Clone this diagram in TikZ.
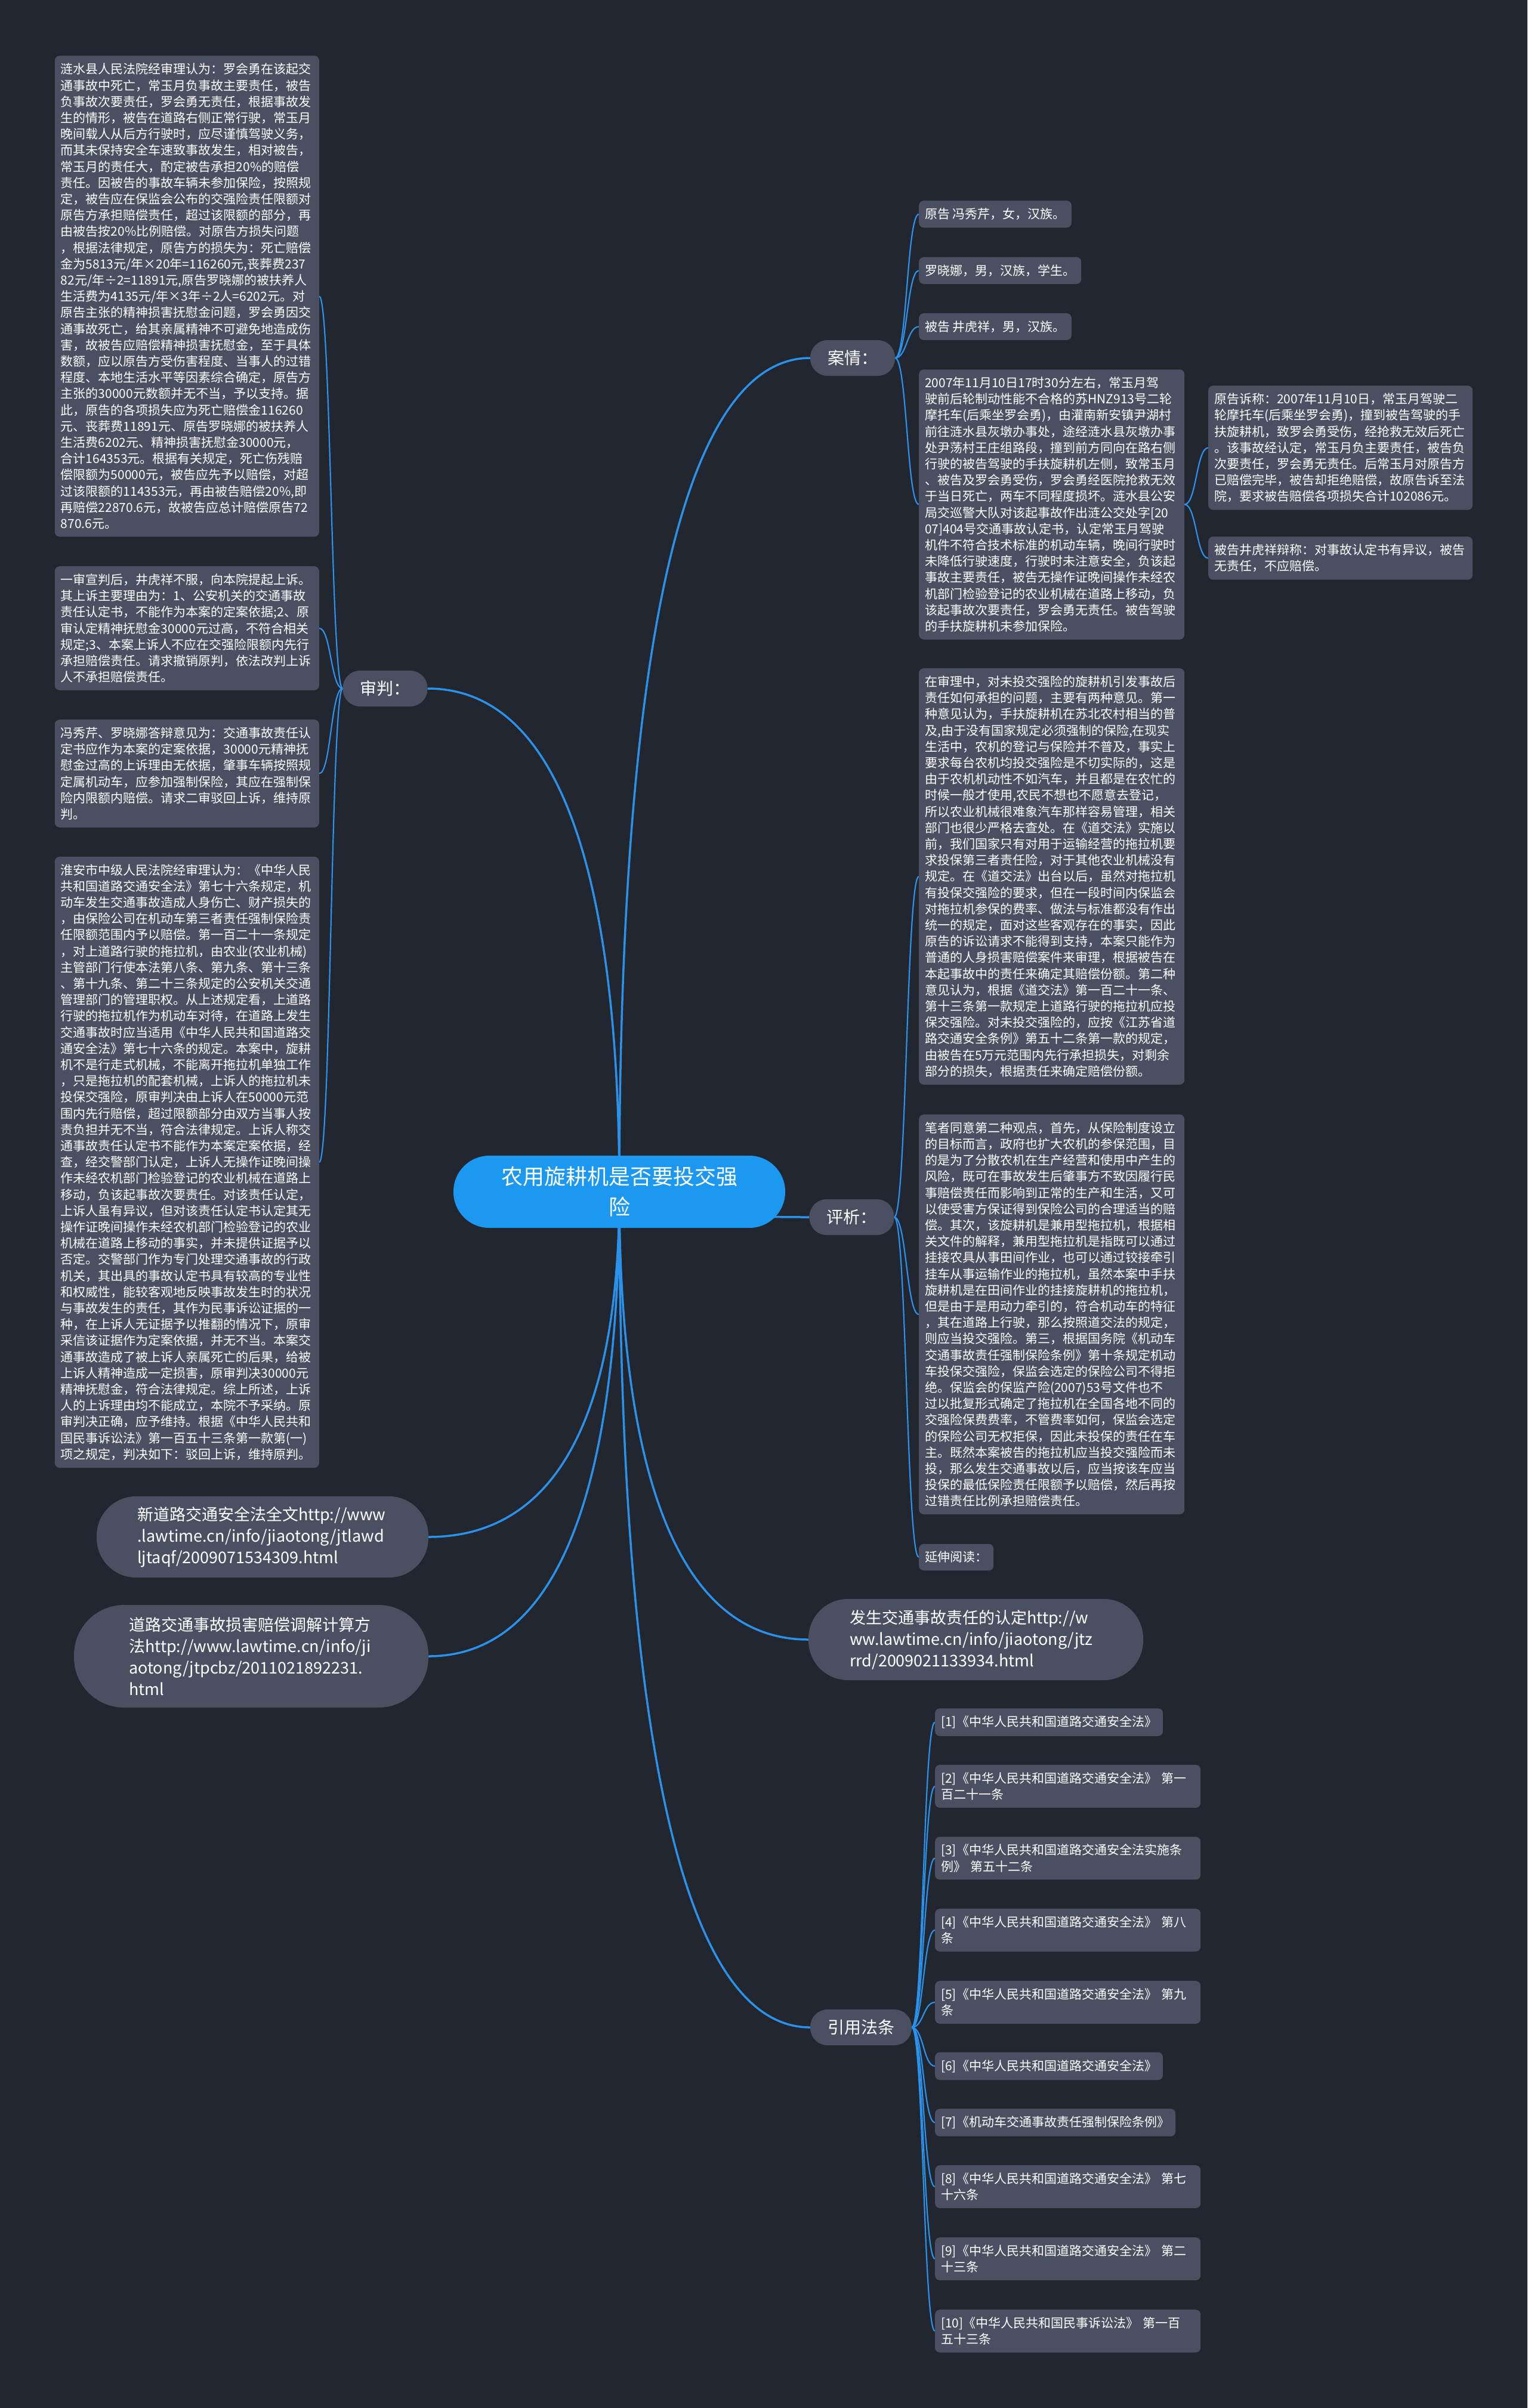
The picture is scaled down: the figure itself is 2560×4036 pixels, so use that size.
\documentclass[tikz,border=0pt]{standalone}
\usepackage{fontspec}
\setmainfont{Noto Sans CJK SC}
\usetikzlibrary{calc}
\definecolor{bgc}{HTML}{22262F}
\definecolor{boxc}{HTML}{4A5061}
\definecolor{linec}{HTML}{2A92EA}
\definecolor{rootc}{HTML}{1C98F0}
\pgfdeclarelayer{bg}
\pgfdeclarelayer{edges}
\pgfsetlayers{bg,edges,main}
\tikzset{
  leaf/.style={fill=boxc, rounded corners=8pt, text=white, font=\fontsize{21}{27.2}\selectfont, inner xsep=10pt, inner ysep=12.5pt, align=left},
  wide/.style={leaf, text width=423pt},
  branch/.style={fill=boxc, rounded corners=29pt, text=white, font=\fontsize{28}{34}\selectfont, minimum height=60pt, inner xsep=29pt, inner ysep=0pt},
  pill/.style={fill=boxc, text=white, font=\fontsize{27}{36}\selectfont, align=left, inner sep=0pt},
  rootnode/.style={fill=rootc, rounded corners=60pt, text=white, font=\fontsize{36}{51}\selectfont, align=center, minimum width=556pt, minimum height=121pt, inner sep=0pt},
  conn/.style={draw=linec, line width=3.5pt},
  conntwo/.style={draw=linec, line width=2.2pt},
}
\newcommand\mmA[2]{\draw[conn] (#1) .. controls ($(#1)!0.5!(#1 |- #2)$) and ($(#1 |- #2)!0.2!(#2)$) .. (#2);}
\newcommand\mmB[2]{\draw[conntwo] (#1) .. controls ($(#1)!0.5!(#1 -| #2)$) and ($(#2)!0.5!(#1 |- #2)$) .. (#2);}
\begin{document}
\begin{tikzpicture}[x=1pt,y=-1pt]
\begin{pgfonlayer}{bg}
\fill[bgc] (0,0) rectangle (2560,4036);
\end{pgfonlayer}
\useasboundingbox (0,0) rectangle (2560,4036);

% root
\node[rootnode] (c) at (1038,1997.5) {农用旋耕机是否要投交强\\险};

% branches
\node[branch] (an) at (1429,600) {案情：};
\node[branch] (sp) at (645.5,1154) {审判：};
\node[branch] (px) at (1427.5,2040) {评析：};
\node[branch] (yf) at (1443,3398) {引用法条};

% case
\node[leaf, anchor=west] (a1) at (1540,359) {原告 冯秀芹，女，汉族。};
\node[leaf, anchor=west] (a2) at (1540,453.5) {罗晓娜，男，汉族，学生。};
\node[leaf, anchor=west] (a3) at (1540,547.5) {被告 井虎祥，男，汉族。};
\node[wide, anchor=west, text width=425pt] (a4) at (1540,845.5) {2007年11月10日17时30分左右，常玉月驾\\
驶前后轮制动性能不合格的苏HNZ913号二轮\\
摩托车(后乘坐罗会勇)，由灌南新安镇尹湖村\\
前往涟水县灰墩办事处，途经涟水县灰墩办事\\
处尹荡村王庄组路段，撞到前方同向在路右侧\\
行驶的被告驾驶的手扶旋耕机左侧，致常玉月\\
、被告及罗会勇受伤，罗会勇经医院抢救无效\\
于当日死亡，两车不同程度损坏。涟水县公安\\
局交巡警大队对该起事故作出涟公交处字[20\\
07]404号交通事故认定书，认定常玉月驾驶\\
机件不符合技术标准的机动车辆，晚间行驶时\\
未降低行驶速度，行驶时未注意安全，负该起\\
事故主要责任，被告无操作证晚间操作未经农\\
机部门检验登记的农业机械在道路上移动，负\\
该起事故次要责任，罗会勇无责任。被告驾驶\\
的手扶旋耕机未参加保险。};
\node[wide, anchor=west] (a5) at (2025,750.5) {原告诉称：2007年11月10日，常玉月驾驶二\\
轮摩托车(后乘坐罗会勇)，撞到被告驾驶的手\\
扶旋耕机，致罗会勇受伤，经抢救无效后死亡\\
。该事故经认定，常玉月负主要责任，被告负\\
次要责任，罗会勇无责任。后常玉月对原告方\\
已赔偿完毕，被告却拒绝赔偿，故原告诉至法\\
院，要求被告赔偿各项损失合计102086元。};
\node[wide, anchor=west] (a6) at (2025,935.5) {被告井虎祥辩称：对事故认定书有异议，被告\\
无责任，不应赔偿。};

% trial
\node[wide, anchor=east] (s1) at (535,496.5) {涟水县人民法院经审理认为：罗会勇在该起交\\
通事故中死亡，常玉月负事故主要责任，被告\\
负事故次要责任，罗会勇无责任，根据事故发\\
生的情形，被告在道路右侧正常行驶，常玉月\\
晚间载人从后方行驶时，应尽谨慎驾驶义务，\\
而其未保持安全车速致事故发生，相对被告，\\
常玉月的责任大，酌定被告承担20\%的赔偿\\
责任。因被告的事故车辆未参加保险，按照规\\
定，被告应在保监会公布的交强险责任限额对\\
原告方承担赔偿责任，超过该限额的部分，再\\
由被告按20\%比例赔偿。对原告方损失问题\\
，根据法律规定，原告方的损失为：死亡赔偿\\
金为5813元/年×20年=116260元,丧葬费237\\
82元/年÷2=11891元,原告罗晓娜的被扶养人\\
生活费为4135元/年×3年÷2人=6202元。对\\
原告主张的精神损害抚慰金问题，罗会勇因交\\
通事故死亡，给其亲属精神不可避免地造成伤\\
害，故被告应赔偿精神损害抚慰金，至于具体\\
数额，应以原告方受伤害程度、当事人的过错\\
程度、本地生活水平等因素综合确定，原告方\\
主张的30000元数额并无不当，予以支持。据\\
此，原告的各项损失应为死亡赔偿金116260\\
元、丧葬费11891元、原告罗晓娜的被扶养人\\
生活费6202元、精神损害抚慰金30000元，\\
合计164353元。根据有关规定，死亡伤残赔\\
偿限额为50000元，被告应先予以赔偿，对超\\
过该限额的114353元，再由被告赔偿20\%,即\\
再赔偿22870.6元，故被告应总计赔偿原告72\\
870.6元。};
\node[wide, anchor=east] (s2) at (535,1053) {一审宣判后，井虎祥不服，向本院提起上诉。\\
其上诉主要理由为：1、公安机关的交通事故\\
责任认定书，不能作为本案的定案依据;2、原\\
审认定精神抚慰金30000元过高，不符合相关\\
规定;3、本案上诉人不应在交强险限额内先行\\
承担赔偿责任。请求撤销原判，依法改判上诉\\
人不承担赔偿责任。};
\node[wide, anchor=east] (s3) at (535,1296.5) {冯秀芹、罗晓娜答辩意见为：交通事故责任认\\
定书应作为本案的定案依据，30000元精神抚\\
慰金过高的上诉理由无依据，肇事车辆按照规\\
定属机动车，应参加强制保险，其应在强制保\\
险内限额内赔偿。请求二审驳回上诉，维持原\\
判。};
\node[wide, anchor=east] (s4) at (535,1948) {淮安市中级人民法院经审理认为：《中华人民\\
共和国道路交通安全法》第七十六条规定，机\\
动车发生交通事故造成人身伤亡、财产损失的\\
，由保险公司在机动车第三者责任强制保险责\\
任限额范围内予以赔偿。第一百二十一条规定\\
，对上道路行驶的拖拉机，由农业(农业机械)\\
主管部门行使本法第八条、第九条、第十三条\\
、第十九条、第二十三条规定的公安机关交通\\
管理部门的管理职权。从上述规定看，上道路\\
行驶的拖拉机作为机动车对待，在道路上发生\\
交通事故时应当适用《中华人民共和国道路交\\
通安全法》第七十六条的规定。本案中，旋耕\\
机不是行走式机械，不能离开拖拉机单独工作\\
，只是拖拉机的配套机械，上诉人的拖拉机未\\
投保交强险，原审判决由上诉人在50000元范\\
围内先行赔偿，超过限额部分由双方当事人按\\
责负担并无不当，符合法律规定。上诉人称交\\
通事故责任认定书不能作为本案定案依据，经\\
查，经交警部门认定，上诉人无操作证晚间操\\
作未经农机部门检验登记的农业机械在道路上\\
移动，负该起事故次要责任。对该责任认定，\\
上诉人虽有异议，但对该责任认定书认定其无\\
操作证晚间操作未经农机部门检验登记的农业\\
机械在道路上移动的事实，并未提供证据予以\\
否定。交警部门作为专门处理交通事故的行政\\
机关，其出具的事故认定书具有较高的专业性\\
和权威性，能较客观地反映事故发生时的状况\\
与事故发生的责任，其作为民事诉讼证据的一\\
种，在上诉人无证据予以推翻的情况下，原审\\
采信该证据作为定案依据，并无不当。本案交\\
通事故造成了被上诉人亲属死亡的后果，给被\\
上诉人精神造成一定损害，原审判决30000元\\
精神抚慰金，符合法律规定。综上所述，上诉\\
人的上诉理由均不能成立，本院不予采纳。原\\
审判决正确，应予维持。根据《中华人民共和\\
国民事诉讼法》第一百五十三条第一款第(一)\\
项之规定，判决如下：驳回上诉，维持原判。};

% evaluation
\node[wide, anchor=west, text width=425pt] (p1) at (1540,1469) {在审理中，对未投交强险的旋耕机引发事故后\\
责任如何承担的问题，主要有两种意见。第一\\
种意见认为，手扶旋耕机在苏北农村相当的普\\
及,由于没有国家规定必须强制的保险,在现实\\
生活中，农机的登记与保险并不普及，事实上\\
要求每台农机均投交强险是不切实际的，这是\\
由于农机机动性不如汽车，并且都是在农忙的\\
时候一般才使用,农民不想也不愿意去登记，\\
所以农业机械很难象汽车那样容易管理，相关\\
部门也很少严格去查处。在《道交法》实施以\\
前，我们国家只有对用于运输经营的拖拉机要\\
求投保第三者责任险，对于其他农业机械没有\\
规定。在《道交法》出台以后，虽然对拖拉机\\
有投保交强险的要求，但在一段时间内保监会\\
对拖拉机参保的费率、做法与标准都没有作出\\
统一的规定，面对这些客观存在的事实，因此\\
原告的诉讼请求不能得到支持，本案只能作为\\
普通的人身损害赔偿案件来审理，根据被告在\\
本起事故中的责任来确定其赔偿份额。第二种\\
意见认为，根据《道交法》第一百二十一条、\\
第十三条第一款规定上道路行驶的拖拉机应投\\
保交强险。对未投交强险的，应按《江苏省道\\
路交通安全条例》第五十二条第一款的规定，\\
由被告在5万元范围内先行承担损失，对剩余\\
部分的损失，根据责任来确定赔偿份额。};
\node[wide, anchor=west, text width=425pt] (p2) at (1540,2203) {笔者同意第二种观点，首先，从保险制度设立\\
的目标而言，政府也扩大农机的参保范围，目\\
的是为了分散农机在生产经营和使用中产生的\\
风险，既可在事故发生后肇事方不致因履行民\\
事赔偿责任而影响到正常的生产和生活，又可\\
以使受害方保证得到保险公司的合理适当的赔\\
偿。其次，该旋耕机是兼用型拖拉机，根据相\\
关文件的解释，兼用型拖拉机是指既可以通过\\
挂接农具从事田间作业，也可以通过铰接牵引\\
挂车从事运输作业的拖拉机，虽然本案中手扶\\
旋耕机是在田间作业的挂接旋耕机的拖拉机，\\
但是由于是用动力牵引的，符合机动车的特征\\
，其在道路上行驶，那么按照道交法的规定，\\
则应当投交强险。第三，根据国务院《机动车\\
交通事故责任强制保险条例》第十条规定机动\\
车投保交强险，保监会选定的保险公司不得拒\\
绝。保监会的保监产险(2007)53号文件也不\\
过以批复形式确定了拖拉机在全国各地不同的\\
交强险保费费率，不管费率如何，保监会选定\\
的保险公司无权拒保，因此未投保的责任在车\\
主。既然本案被告的拖拉机应当投交强险而未\\
投，那么发生交通事故以后，应当按该车应当\\
投保的最低保险责任限额予以赔偿，然后再按\\
过错责任比例承担赔偿责任。};
\node[leaf, anchor=west] (p3) at (1540,2610) {延伸阅读：};

% links
\node[pill, minimum width=556pt, minimum height=136pt, text width=420pt, rounded corners=66pt] (k1) at (440,2576) {新道路交通安全法全文http://www\\
.lawtime.cn/info/jiaotong/jtlawd\\
ljtaqf/2009071534309.html};
\node[pill, minimum width=594pt, minimum height=172pt, text width=410pt, rounded corners=84pt] (k2) at (421,2776) {道路交通事故损害赔偿调解计算方\\
法http://www.lawtime.cn/info/ji\\
aotong/jtpcbz/2011021892231.\\
html};
\node[pill, minimum width=561pt, minimum height=136pt, text width=423pt, rounded corners=66pt] (k3) at (1635.5,2748) {发生交通事故责任的认定http://w\\
ww.lawtime.cn/info/jiaotong/jtz\\
rrd/2009021133934.html};

% laws
\node[leaf, anchor=west] (l1) at (1567,2886.5) {[1]《中华人民共和国道路交通安全法》};
\node[leaf, anchor=west, text width=425pt] (l2) at (1567,2994) {[2]《中华人民共和国道路交通安全法》 第一\\百二十一条};
\node[leaf, anchor=west, text width=425pt] (l3) at (1567,3114.5) {[3]《中华人民共和国道路交通安全法实施条\\例》 第五十二条};
\node[leaf, anchor=west, text width=425pt] (l4) at (1567,3235) {[4]《中华人民共和国道路交通安全法》 第八\\条};
\node[leaf, anchor=west, text width=425pt] (l5) at (1567,3356) {[5]《中华人民共和国道路交通安全法》 第九\\条};
\node[leaf, anchor=west] (l6) at (1567,3463) {[6]《中华人民共和国道路交通安全法》};
\node[leaf, anchor=west] (l7) at (1567,3557.5) {[7]《机动车交通事故责任强制保险条例》};
\node[leaf, anchor=west, text width=425pt] (l8) at (1567,3665) {[8]《中华人民共和国道路交通安全法》 第七\\十六条};
\node[leaf, anchor=west, text width=425pt] (l9) at (1567,3786) {[9]《中华人民共和国道路交通安全法》 第二\\十三条};
\node[leaf, anchor=west, text width=425pt] (l10) at (1567,3907) {[10]《中华人民共和国民事诉讼法》 第一百\\五十三条};

% connectors
\begin{pgfonlayer}{edges}
\mmA{c.center}{an.west}
\mmA{c.center}{sp.east}
\mmA{c.center}{px.west}
\mmA{c.center}{yf.west}
\mmA{c.center}{k1.east}
\mmA{c.center}{k2.east}
\mmA{c.center}{k3.west}
\mmB{an.east}{a1.west}
\mmB{an.east}{a2.west}
\mmB{an.east}{a3.west}
\mmB{an.east}{a4.west}
\mmB{a4.east}{a5.west}
\mmB{a4.east}{a6.west}
\mmB{sp.west}{s1.east}
\mmB{sp.west}{s2.east}
\mmB{sp.west}{s3.east}
\mmB{sp.west}{s4.east}
\mmB{px.east}{p1.west}
\mmB{px.east}{p2.west}
\mmB{px.east}{p3.west}
\mmB{yf.east}{l1.west}
\mmB{yf.east}{l2.west}
\mmB{yf.east}{l3.west}
\mmB{yf.east}{l4.west}
\mmB{yf.east}{l5.west}
\mmB{yf.east}{l6.west}
\mmB{yf.east}{l7.west}
\mmB{yf.east}{l8.west}
\mmB{yf.east}{l9.west}
\mmB{yf.east}{l10.west}
\end{pgfonlayer}
\end{tikzpicture}
\end{document}
